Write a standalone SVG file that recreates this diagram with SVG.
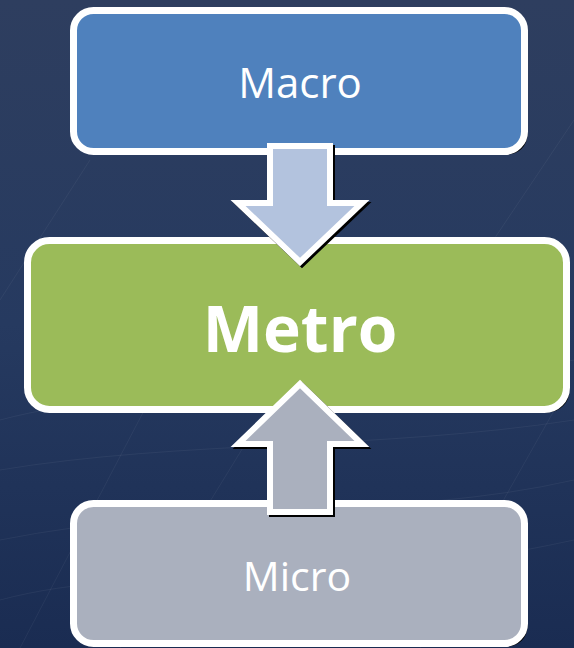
<svg xmlns="http://www.w3.org/2000/svg" width="574" height="648" viewBox="0 0 574 648">
<defs>
<linearGradient id="bg" x1="0" y1="0" x2="0" y2="1">
<stop offset="0" stop-color="#2E3E5F"/>
<stop offset="0.5" stop-color="#263A60"/>
<stop offset="1" stop-color="#1A2C52"/>
</linearGradient>
<style>
.box{stroke:#FFFFFF;stroke-width:7}
.sh{fill:#000000}
.arr{stroke:#FFFFFF;stroke-width:6;stroke-linejoin:miter}
.ash{fill:#000000;stroke:#000000;stroke-width:6}
.lbl{font-family:"Open Sans","Noto Sans","Liberation Sans",sans-serif;fill:#FFFFFF;text-anchor:middle}
.tex{stroke:#FFFFFF;stroke-opacity:0.05;stroke-width:1;fill:none}
</style>
</defs>
<rect x="0" y="0" width="574" height="648" fill="url(#bg)"/>
<g id="texture">
<path class="tex" d="M0,420 C150,380 350,400 574,360"/>
<path class="tex" d="M0,470 C180,440 380,450 574,420"/>
<path class="tex" d="M0,540 C200,500 400,520 574,480"/>
<path class="tex" d="M20,648 L160,380"/>
<path class="tex" d="M120,648 L260,420"/>
<path class="tex" d="M420,648 L560,400"/>
<path class="tex" d="M0,300 L90,160"/>
<path class="tex" d="M480,260 L574,120"/>
<path class="tex" d="M0,600 C150,560 300,600 574,540"/>
</g>
<g id="macro">
<rect class="sh" x="76.5" y="13.5" width="451" height="141" rx="20"/>
<rect class="box" x="73.5" y="10.5" width="451" height="141" rx="20" fill="#4F81BD"/>
<text class="lbl" x="300" y="98" font-size="42">Macro</text>
</g>
<g id="metro">
<rect class="sh" x="30.5" y="243.5" width="539" height="169" rx="22"/>
<rect class="box" x="27.5" y="240.5" width="539" height="169" rx="22" fill="#9BBB59"/>
<text class="lbl" x="300" y="352" font-size="64" font-weight="bold">Metro</text>
</g>
<g id="micro">
<rect class="sh" x="76.5" y="506.5" width="451" height="140" rx="20"/>
<rect class="box" x="73.5" y="503.5" width="451" height="140" rx="20" fill="#AAB0BE"/>
<text class="lbl" x="297" y="591" font-size="41" fill="#F2F2F2">Micro</text>
</g>
<g id="connectors">
<polygon class="ash" points="272,148 332,148 332,205 364,205 302,264 240,205 272,205"/>
<polygon class="arr" points="270,146 330,146 330,203 362,203 300,262 238,203 270,203" fill="#B3C3DE"/>
<polygon class="ash" points="302,386 364,446 332,446 332,514 272,514 272,446 240,446"/>
<polygon class="arr" points="300,384 362,444 330,444 330,512 270,512 270,444 238,444" fill="#AAB0BE"/>
</g>
</svg>
